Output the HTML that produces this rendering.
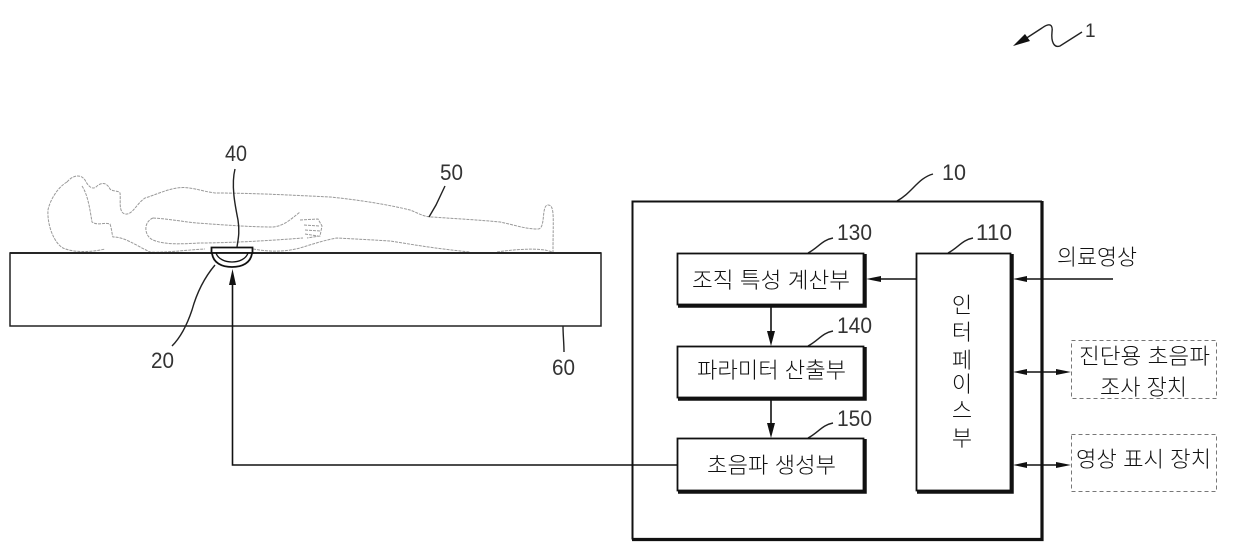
<!DOCTYPE html>
<html lang="ko">
<head>
<meta charset="utf-8">
<style>
html,body{margin:0;padding:0;background:#fff;width:1240px;height:557px;overflow:hidden}
svg{display:block}
.n{font-family:"Liberation Sans",sans-serif;font-size:22px;fill:#333}
.k{font-family:"Noto Sans CJK KR","NanumGothic",sans-serif;font-size:22px;font-weight:300;fill:#111}
.v{font-family:"Noto Sans CJK KR","NanumGothic",sans-serif;font-size:22px;font-weight:300;fill:#111}
.b{fill:none;stroke:#999;stroke-width:1;stroke-dasharray:3 1}
.l{fill:none;stroke:#222;stroke-width:1.4}
.w{fill:none;stroke:#111;stroke-width:1.600}
</style>
</head>
<body>
<svg width="1240" height="557" viewBox="0 0 1240 557" xmlns="http://www.w3.org/2000/svg">
<rect width="1240" height="557" fill="#fff"/>

<!-- patient -->
<path class="b" d="M67 182C58 187 50 200 48 210C47 225 54 243 63 248C72 252 88 253 105 249"/>
<path class="b" d="M67 182C72 176 80 173 85 180C88 186 92 190 96 187C100 183 106 181 110 189C113 192 118 190 120 193C121 200 118 212 125 214C133 215 136 204 145 198C155 195 165 190 177 188C190 186 200 191 215 193C250 193 290 195 330 197C360 200 390 205 410 210C418 213 424 217 432 217C460 219 480 220 500 222C515 225 525 229 538 229C546 229 541 205 548 205C555 205 553 218 553 252"/>
<path class="b" d="M82 186C88 195 90 210 92 222C98 226 104 222 110 224C112 230 112 235 113 237C125 237 135 245 150 252C165 253 185 250 205 249"/>
<path class="b" d="M253 249C270 252 285 252 300 248C313 244 325 240 337 238C355 239 375 240 390 241C410 244 430 248 470 252"/>
<path class="b" d="M497 252C510 250 530 248 545 250L553 252"/>
<path class="b" d="M153 218C143 222 144 236 153 240C165 245 180 244 200 243C225 243 265 241 303 238"/>
<path class="b" d="M153 218C170 219 185 222 197 223C225 225 250 227 273 227C283 226 290 220 295 216L300 212"/>
<path class="b" d="M300 220L318 219L322 226L320 236L307 238M304 225L319 226M305 230L320 231M305 234L318 236"/>

<!-- table -->
<path d="M10 253H601" stroke="#333" stroke-width="2" fill="none"/>
<rect x="10" y="253" width="591" height="73" fill="none" stroke="#222" stroke-width="1.500"/>

<!-- probe -->
<path d="M211.500 247.500H252.500V253H211.500Z" fill="#fff" stroke="#111" stroke-width="1.800"/>
<path d="M212 253C213 263 222 267 232 267C242 267 251 263 252 253Z" fill="#fff" stroke="#111" stroke-width="1.800"/>
<path d="M216 253C218 259 225 262 232 262C239 262 246 259 248 253" fill="none" stroke="#111" stroke-width="1.300"/>

<!-- leaders -->
<path class="l" d="M235 169C231 185 235 205 238 220C240 232 238 240 237 247"/>
<path class="l" d="M445 186L436 205L429 217"/>
<path class="l" d="M215 265C204 278 197 292 192 310C187 325 180 338 172 346"/>
<path class="l" stroke-width="1" d="M563 326C563 335 564 343 564 352"/>
<path class="l" d="M933 174C918 178 912 193 897 201"/>
<path class="l" d="M833 238C822 240 818 248 808 253"/>
<path class="l" d="M833 331C822 333 818 341 808 346"/>
<path class="l" d="M833 423C822 425 818 433 808 438"/>
<path class="l" d="M973 238C962 240 958 248 948 253"/>

<!-- squiggle 1 -->
<path class="l" stroke-width="1.800" d="M1022 41L1042 28C1050 22 1053 25 1052 32C1051 42 1054 48 1060 46L1082 32"/>
<path d="M1013 46L1025 34L1030 41Z" fill="#111"/>

<!-- main box -->
<path d="M632.500 539.500V201.500H1042" fill="none" stroke="#111" stroke-width="2"/>
<path d="M1042 201V539.500H632" fill="none" stroke="#111" stroke-width="3.200"/>

<!-- sub boxes -->
<g fill="#fff" stroke="#111" stroke-width="1.800">
<rect x="677.500" y="253.500" width="186" height="51"/>
<rect x="677.500" y="346.500" width="186" height="51"/>
<rect x="677.500" y="438.500" width="186" height="52"/>
<rect x="916.500" y="253.500" width="94" height="237"/>
</g>
<g fill="none" stroke="#111" stroke-width="3.500">
<path d="M865 254V306H678"/>
<path d="M865 347V399H678"/>
<path d="M865 439V492H678"/>
<path d="M1012 254V492H917"/>
</g>

<!-- connectors -->
<path class="w" d="M916 279H872"/>
<path d="M866 279L881 276V282Z" fill="#111"/>
<path class="w" d="M771 306V336"/>
<path d="M771 346L767 331H775Z" fill="#111"/>
<path class="w" d="M771 399V428"/>
<path d="M771 438L767 423H775Z" fill="#111"/>
<path class="w" d="M677 465H232.500V280"/>
<path d="M232.500 269L229 285H236Z" fill="#111"/>
<path class="w" d="M1113 279H1022" stroke-width="2"/>
<path d="M1013 279L1027 276V282Z" fill="#111"/>
<path class="w" d="M1020 372H1060"/>
<path d="M1013 372L1027 369V375Z" fill="#111"/>
<path d="M1071 372L1056 369V375Z" fill="#111"/>
<path class="w" d="M1020 465H1060"/>
<path d="M1013 465L1027 462V468Z" fill="#111"/>
<path d="M1071 465L1056 462V468Z" fill="#111"/>

<!-- dashed boxes -->
<g fill="none" stroke="#777" stroke-width="1" stroke-dasharray="4 3">
<rect x="1071.500" y="340.500" width="145" height="58"/>
<rect x="1071.500" y="434.500" width="145" height="57"/>
</g>

<!-- number labels -->
<text class="n" x="225" y="161" textLength="22" lengthAdjust="spacingAndGlyphs">40</text>
<text class="n" x="440" y="180" textLength="23" lengthAdjust="spacingAndGlyphs">50</text>
<text class="n" x="151" y="368" textLength="23" lengthAdjust="spacingAndGlyphs">20</text>
<text class="n" x="552" y="375" textLength="23" lengthAdjust="spacingAndGlyphs">60</text>
<text class="n" x="942" y="180" textLength="24" lengthAdjust="spacingAndGlyphs">10</text>
<text class="n" x="837" y="240" textLength="35" lengthAdjust="spacingAndGlyphs">130</text>
<text class="n" x="837" y="333" textLength="35" lengthAdjust="spacingAndGlyphs">140</text>
<text class="n" x="837" y="426" textLength="35" lengthAdjust="spacingAndGlyphs">150</text>
<text class="n" x="976" y="240" textLength="36" lengthAdjust="spacingAndGlyphs">110</text>
<text class="n" x="1085" y="37" style="font-size:19px">1</text>

<!-- korean labels -->
<text class="k" x="692" y="288" textLength="158" lengthAdjust="spacingAndGlyphs">조직 특성 계산부</text>
<text class="k" x="697" y="378" textLength="149" lengthAdjust="spacingAndGlyphs">파라미터 산출부</text>
<text class="k" x="707" y="473" textLength="129" lengthAdjust="spacingAndGlyphs">초음파 생성부</text>
<text class="v" x="962" y="313" text-anchor="middle">인</text>
<text class="v" x="962" y="340" text-anchor="middle">터</text>
<text class="v" x="962" y="368" text-anchor="middle">페</text>
<text class="v" x="962" y="392" text-anchor="middle">이</text>
<text class="v" x="962" y="418" text-anchor="middle">스</text>
<text class="v" x="962" y="446" text-anchor="middle">부</text>
<text class="k" x="1057" y="265" textLength="80" lengthAdjust="spacingAndGlyphs">의료영상</text>
<text class="k" x="1079" y="364" textLength="131" lengthAdjust="spacingAndGlyphs">진단용 초음파</text>
<text class="k" x="1100" y="395" textLength="87" lengthAdjust="spacingAndGlyphs">조사 장치</text>
<text class="k" x="1076" y="467" textLength="135" lengthAdjust="spacingAndGlyphs">영상 표시 장치</text>
</svg>
</body>
</html>
